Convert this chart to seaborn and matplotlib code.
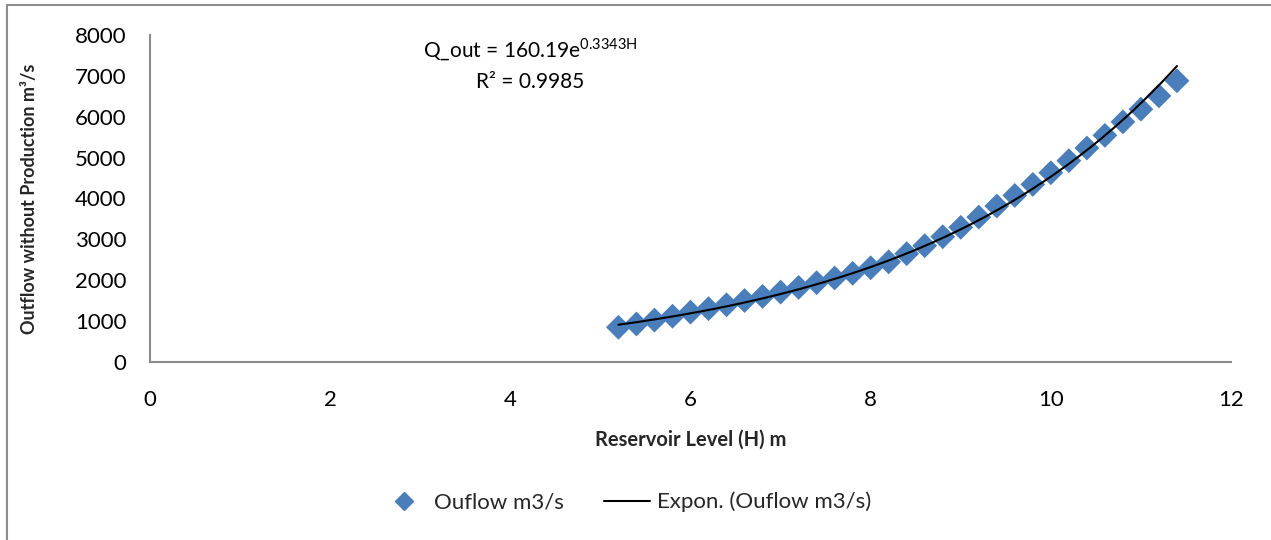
import numpy as np
import pandas as pd
import seaborn as sns
import matplotlib
matplotlib.use("Agg")
import matplotlib.pyplot as plt
from matplotlib.lines import Line2D

# ---- data ----
level_m = [5.2, 5.4, 5.6, 5.8, 6.0, 6.2, 6.4, 6.6, 6.8, 7.0, 7.2, 7.4, 7.6, 7.8, 8.0, 8.2,
           8.4, 8.6, 8.8, 9.0, 9.2, 9.4, 9.6, 9.8, 10.0, 10.2, 10.4, 10.6, 10.8, 11.0, 11.2, 11.4]
outflow = [850, 930, 1025, 1120, 1220, 1305, 1400, 1505, 1605, 1710, 1825, 1940, 2055, 2170, 2305, 2450,
           2650, 2845, 3065, 3295, 3545, 3815, 4075, 4345, 4630, 4925, 5235, 5545, 5875, 6185, 6510, 6880]
fit_a = 160.19
fit_b = 0.3343
r_squared = 0.9985
x_ticks = [0, 2, 4, 6, 8, 10, 12]
y_ticks = [0, 1000, 2000, 3000, 4000, 5000, 6000, 7000, 8000]

sns.set_theme(style="white")
plt.rcParams['font.family'] = ['Lato', 'DejaVu Sans']

W, H = 1271, 540
fig = plt.figure(figsize=(W / 100, H / 100), dpi=100)
ax = fig.add_axes([150 / W, 1 - 362 / H, (1231 - 150) / W, (362 - 35) / H])

df = pd.DataFrame({"H": level_m, "Q": outflow})
blue = "#4A7EBB"
sns.scatterplot(data=df, x="H", y="Q", marker="D", s=160, color=blue, edgecolor="none", ax=ax,
                legend=False, zorder=2)

hx = np.linspace(min(level_m), max(level_m), 200)
sns.lineplot(x=hx, y=fit_a * np.exp(fit_b * hx), color="black", linewidth=1.5, ax=ax, zorder=3)

ax.set_xlim(0, 12)
ax.set_ylim(0, 8000)
ax.set_xticks(x_ticks)
ax.set_yticks(y_ticks)
ax.set_xticklabels([str(t) for t in x_ticks])
ax.set_yticklabels([str(t) for t in y_ticks])
ax.tick_params(axis="both", length=0, labelsize=16, colors="black")
ax.tick_params(axis="y", pad=17)
ax.tick_params(axis="x", pad=20)
for s in ["top", "right"]:
    ax.spines[s].set_visible(False)
for s in ["left", "bottom"]:
    ax.spines[s].set_color("#8c8c8c")
    ax.spines[s].set_linewidth(1.5)

ax.set_xlabel("Reservoir Level (H) m", fontsize=14.5, fontweight="bold", labelpad=14)
ax.set_ylabel("Outflow without Production m³/s", fontsize=13, fontweight="bold")
ax.yaxis.set_label_coords(-112 / (1231 - 150), 0.5)

ax.text(4.22, 7630, "Q_out = %.2fe$^{\\mathregular{%.4fH}}$" % (fit_a, fit_b), ha="center", va="center",
        fontsize=15, color="black")
ax.text(4.22, 6850, "R² = %.4f" % r_squared, ha="center", va="center", fontsize=15, color="black")

handles = [Line2D([], [], marker="D", linestyle="none", color=blue, markersize=9.5),
           Line2D([], [], color="black", linewidth=1.5)]
fig.legend(handles, ["Ouflow m3/s", "Expon. (Ouflow m3/s)"], loc="center", bbox_to_anchor=(626 / W, 1 - 502 / H),
           ncol=2, frameon=False, fontsize=16, columnspacing=1.8, handlelength=2.1, handletextpad=0.3)

# outer chart border (top and left visible)
fig.add_artist(Line2D([7 / W, 1], [1 - 5 / H, 1 - 5 / H], transform=fig.transFigure, color="#8c8c8c", linewidth=1.5))
fig.add_artist(Line2D([7 / W, 7 / W], [0, 1 - 5 / H], transform=fig.transFigure, color="#8c8c8c", linewidth=1.5))

fig.savefig("out.png", dpi=100, facecolor="white")
